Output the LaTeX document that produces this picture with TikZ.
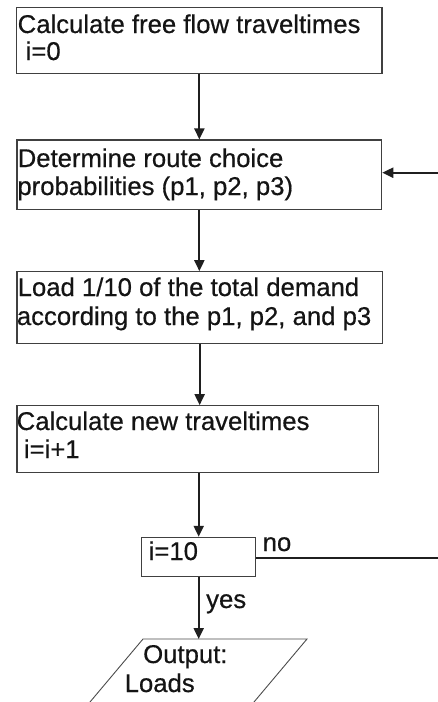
\documentclass[tikz,border=0pt]{standalone}
\usepackage{fontspec}
\setmainfont[FakeBold=0.5,BoldFont={Liberation Sans}]{Liberation Sans}
\usetikzlibrary{arrows.meta}
\begin{document}
\begin{tikzpicture}[x=1pt,y=-1pt,
  box/.style={draw=black!75,line width=1.1pt,inner sep=0pt,fill=white},
  txt/.style={anchor=base west,inner sep=0pt,text=black!92,font=\fontsize{25.7}{28.5}\selectfont\bfseries},
  conn/.style={draw=black!88,line width=2pt,-{Triangle[length=11pt,width=10pt]}},
  plain/.style={draw=black!88,line width=2pt},
  para/.style={draw=black!70,line width=0.9pt}]
\useasboundingbox (0,0) rectangle (438,702);
\fill[white] (0,0) rectangle (438,702);
% boxes
\node[box,minimum width=365.3pt,minimum height=66pt] (b1) at (199.35,40.3) {};
\node[box,minimum width=364.7pt,minimum height=69.3pt] (b2) at (199.35,174.65) {};
\node[box,minimum width=365.3pt,minimum height=71.6pt] (b3) at (199.65,307.5) {};
\node[box,minimum width=361.3pt,minimum height=67pt] (b4) at (197.65,439.2) {};
\node[box,minimum width=114pt,minimum height=39.4pt] (b5) at (198.7,557) {};
% texts
\node[txt] (t1a) at (17.5,33) {Calculate free flow traveltimes};
\node[txt] (t1b) at (25.5,60) {i=0};
\node[txt] (t2a) at (17.5,167) {Determine route choice};
\node[txt] (t2b) at (17.2,195) {probabilities (p1, p2, p3)};
\node[txt] (t3a) at (17.5,296) {Load 1/10 of the total demand};
\node[txt] (t3b) at (16.7,325) {according to the p1, p2, and p3};
\node[txt] (t4a) at (16.5,430) {Calculate new traveltimes};
\node[txt] (t4b) at (23.7,458) {i=i+1};
\node[txt] (t5) at (148.5,560) {i=10};
\node[txt] (no) at (262.5,551) {no};
\node[txt] (yes) at (206,608) {yes};
\node[txt] (out1) at (143,663) {Output:};
\node[txt] (out2) at (124.5,692) {Loads};
% parallelogram (cut by the page edge)
\coordinate (pa) at (143,639);
\coordinate (pb) at (307,639);
\coordinate (pc) at (249.8,707);
\coordinate (pd) at (85.8,707);
\draw[para] (pa) -- (pb) -- (pc) -- (pd) -- cycle;
\coordinate (ptop) at (199.5,639);
% connectors
\draw[conn] (b1.south) -- (b1.south |- b2.north);
\draw[conn] (b2.south) -- (b2.south |- b3.north);
\draw[conn] (b3.south) -- (b3.south |- b4.north);
\draw[conn] (b4.south -| b5.south) -- (b5.north);
\draw[conn] (b5.south) -- (b5.south |- ptop);
\coordinate (rin) at (440,172.7);
\coordinate (rout) at (440,557.7);
\draw[conn] (rin) -- (rin -| b2.east);
\draw[plain] (b5.east |- rout) -- (rout);
\end{tikzpicture}
\end{document}
